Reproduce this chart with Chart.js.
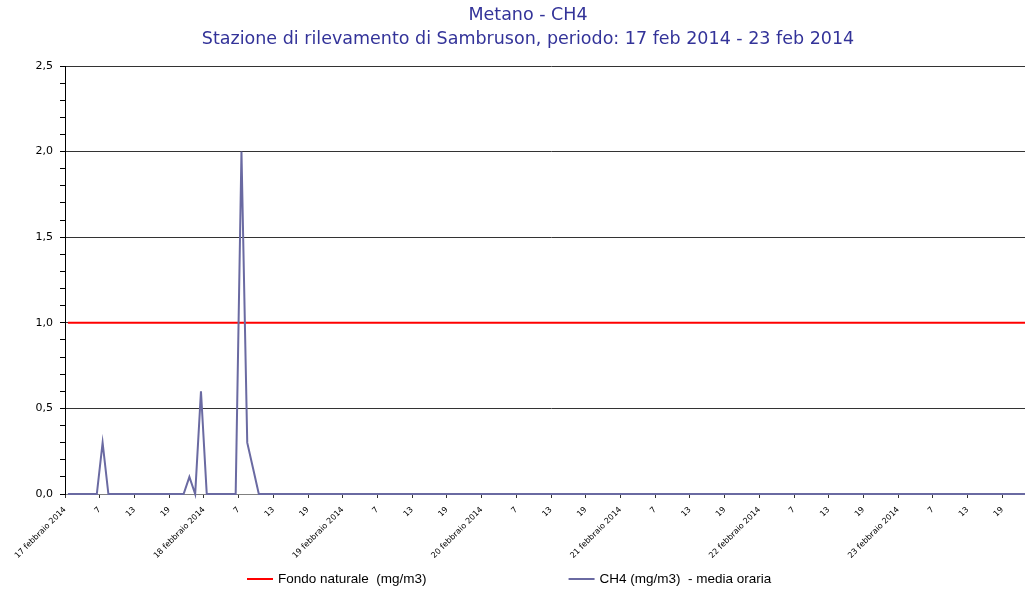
<!DOCTYPE html>
<html>
<head>
<meta charset="utf-8">
<script src="https://cdn.jsdelivr.net/npm/chart.js@4.4.1/dist/chart.umd.min.js"></script>
<style>
  html, body { margin: 0; padding: 0; overflow: hidden; background: #ffffff; }
  #wrap { width: 1025px; height: 590px; overflow: hidden; }
  canvas { display: block; }
</style>
</head>
<body>
<div id="wrap"><canvas id="c" width="1037" height="590"></canvas></div>
<script>
// ---- Data ----
const titleLines = ['Metano - CH4', 'Stazione di rilevamento di Sambruson, periodo: 17 feb 2014 - 23 feb 2014'];
const dayLabels = ['17 febbraio 2014', '18 febbraio 2014', '19 febbraio 2014', '20 febbraio 2014',
                   '21 febbraio 2014', '22 febbraio 2014', '23 febbraio 2014'];
const hourLabels = ['7', '13', '19'];          // labels of the 6-hourly ticks inside each day
const seriesNames = ['Fondo naturale  (mg/m3)', 'CH4 (mg/m3)  - media oraria'];

// CH4 hourly mean (mg/m3), 24 values per day, 17 feb .. 23 feb
const ch4 = [
  0,0,0,0,0,0,0.3,0,0,0,0,0,0,0,0,0,0,0,0,0,0,0.1,0,0.6,
  0,0,0,0,0,0,2.0,0.3,0.15,0,0,0,0,0,0,0,0,0,0,0,0,0,0,0,
  0,0,0,0,0,0,0,0,0,0,0,0,0,0,0,0,0,0,0,0,0,0,0,0,
  0,0,0,0,0,0,0,0,0,0,0,0,0,0,0,0,0,0,0,0,0,0,0,0,
  0,0,0,0,0,0,0,0,0,0,0,0,0,0,0,0,0,0,0,0,0,0,0,0,
  0,0,0,0,0,0,0,0,0,0,0,0,0,0,0,0,0,0,0,0,0,0,0,0,
  0,0,0,0,0,0,0,0,0,0,0,0,0,0,0,0,0,0,0,0,0,0,0,0
];
// Natural background level (mg/m3), 24 values per day
const fondo = [
  1,1,1,1,1,1,1,1,1,1,1,1,1,1,1,1,1,1,1,1,1,1,1,1,
  1,1,1,1,1,1,1,1,1,1,1,1,1,1,1,1,1,1,1,1,1,1,1,1,
  1,1,1,1,1,1,1,1,1,1,1,1,1,1,1,1,1,1,1,1,1,1,1,1,
  1,1,1,1,1,1,1,1,1,1,1,1,1,1,1,1,1,1,1,1,1,1,1,1,
  1,1,1,1,1,1,1,1,1,1,1,1,1,1,1,1,1,1,1,1,1,1,1,1,
  1,1,1,1,1,1,1,1,1,1,1,1,1,1,1,1,1,1,1,1,1,1,1,1,
  1,1,1,1,1,1,1,1,1,1,1,1,1,1,1,1,1,1,1,1,1,1,1,1
];

// hourly means are plotted at the middle of their hour
const toPoints = arr => arr.map((v, i) => ({ x: i + 0.5, y: v }));
const isMajor = v => Math.abs(v * 2 - Math.round(v * 2)) < 1e-6;

const bottomLegend = {
  id: 'bottomLegend',
  afterDraw(chart) {
    const ctx = chart.ctx;
    ctx.save();
    ctx.font = '13.5px "Liberation Sans", Arial, sans-serif';
    ctx.textBaseline = 'middle';
    let x = 247;
    const y = 579;
    chart.data.datasets.forEach(ds => {
      ctx.strokeStyle = ds.borderColor;
      ctx.lineWidth = 2;
      ctx.beginPath();
      ctx.moveTo(x, y);
      ctx.lineTo(x + 26, y);
      ctx.stroke();
      ctx.fillStyle = '#000000';
      ctx.fillText(ds.label, x + 31, y);
      x += 31 + ctx.measureText(ds.label).width + 142;
    });
    ctx.restore();
  }
};

new Chart(document.getElementById('c'), {
  type: 'line',
  data: {
    datasets: [
      { label: seriesNames[0], data: toPoints(fondo), borderColor: '#ff0000', borderWidth: 2,
        pointRadius: 0, tension: 0, order: 1, clip: false },
      { label: seriesNames[1], data: toPoints(ch4), borderColor: '#6a6aa2', borderWidth: 2,
        pointRadius: 0, tension: 0, order: 0, clip: false }
    ]
  },
  options: {
    responsive: false,
    animation: false,
    events: [],
    layout: { padding: { left: 19, right: 0, top: 0, bottom: 30 } },
    plugins: {
      legend: { display: false },
      tooltip: { enabled: false },
      title: {
        display: true,
        text: titleLines,
        color: '#333399',
        font: { family: '"DejaVu Sans", Verdana, sans-serif', size: 17.5, weight: 'normal', lineHeight: 24 / 17.5 },
        padding: { top: 3, bottom: 15 }
      }
    },
    scales: {
      x: {
        type: 'linear',
        min: 0,
        max: 168,
        afterFit: s => { s.height = 66; s.paddingLeft = 0; s.paddingRight = 0; },
        border: { display: true, color: '#808080', width: 1 },
        grid: { drawOnChartArea: false, drawTicks: true, tickLength: 4, tickColor: '#333333' },
        ticks: {
          stepSize: 6,
          autoSkip: false,
          minRotation: 45,
          maxRotation: 45,
          padding: 7,
          color: '#000000',
          font: { family: '"DejaVu Sans", Verdana, sans-serif', size: 8 },
          callback: v => {
            const day = Math.floor(v / 24);
            if (day >= dayLabels.length) return null;
            const k = (v % 24) / 6;
            return k === 0 ? dayLabels[day] : hourLabels[k - 1];
          }
        }
      },
      y: {
        min: 0,
        max: 2.5,
        afterFit: s => { s.width = 46; s.paddingTop = 0; s.paddingBottom = 0; },
        border: { display: true, color: '#000000', width: 1 },
        grid: {
          color: c => (c.tick && isMajor(c.tick.value)) ? (c.tick.value === 0 ? '#808080' : '#333333') : 'rgba(0,0,0,0)',
          tickColor: '#000000',
          tickLength: 5,
          lineWidth: 1
        },
        ticks: {
          stepSize: 0.1,
          autoSkip: false,
          padding: 7,
          color: '#000000',
          font: { family: '"DejaVu Sans", Verdana, sans-serif', size: 11 },
          callback: v => isMajor(v) ? v.toFixed(1).replace('.', ',') : ''
        }
      }
    }
  },
  plugins: [bottomLegend]
});
</script>
</body>
</html>
